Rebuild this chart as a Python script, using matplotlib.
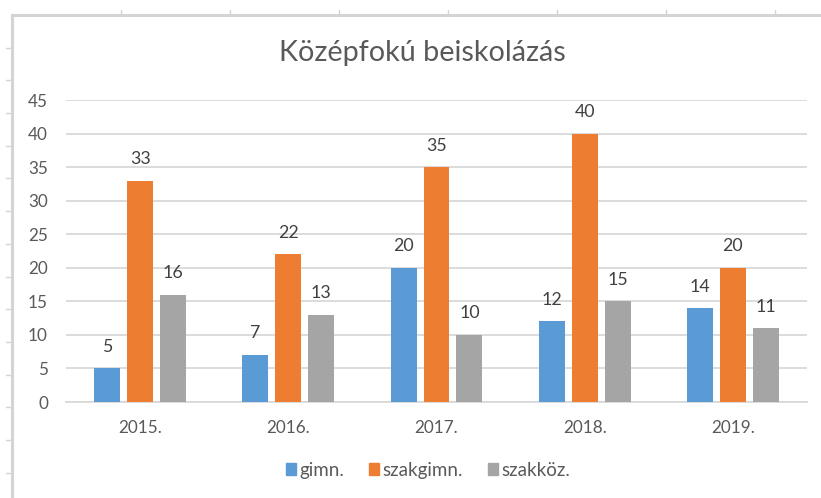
import numpy as np
import matplotlib.pyplot as plt
from matplotlib.lines import Line2D

plt.rcParams['font.family'] = ['Lato', 'DejaVu Sans']

title = 'Középfokú beiskolázás'
years = ['2015.', '2016.', '2017.', '2018.', '2019.']
series_names = ['gimn.', 'szakgimn.', 'szakköz.']
gimn = [5, 7, 20, 12, 14]
szakgimn = [33, 22, 35, 40, 20]
szakkoz = [16, 13, 10, 15, 11]
colors = ['#5B9BD5', '#ED7D31', '#A5A5A5']

W, H = 821, 498
fig = plt.figure(figsize=(W / 100, H / 100), dpi=100)

# plot area in pixel coordinates
x0, x1 = 66, 807
y0, y1 = 402, 100
ax = fig.add_axes([x0 / W, 1 - y0 / H, (x1 - x0) / W, (y0 - y1) / H])

x = np.arange(len(years))
bw = 0.175
step = 0.222
text_col = '#404040'
tick_col = '#595959'

for i, (vals, name) in enumerate(zip([gimn, szakgimn, szakkoz], series_names)):
    pos = x + (i - 1) * step
    ax.bar(pos, vals, width=bw, color=colors[i], label=name, zorder=3)
    for p, v in zip(pos, vals):
        ax.annotate(str(v), (p, v), xytext=(0, 15.5), textcoords='offset points',
                    ha='center', va='center', fontsize=12.8, color=text_col)

ax.set_xlim(-0.5, len(years) - 0.5)
ax.set_ylim(0, 45)
ax.set_yticks(np.arange(0, 50, 5))
ax.set_xticks(x)
ax.set_xticklabels(years)
ax.grid(axis='y', color='#D9D9D9', linewidth=1.3, zorder=0)
ax.tick_params(axis='both', length=0, labelsize=12.3, labelcolor=tick_col)
ax.tick_params(axis='y', pad=13)
ax.tick_params(axis='x', pad=13)
for s in ['top', 'right', 'left']:
    ax.spines[s].set_visible(False)
ax.spines['bottom'].set_color('#D9D9D9')
ax.spines['bottom'].set_linewidth(1.3)

fig.text(422 / W, 1 - 53 / H, title, ha='center', va='center',
         fontsize=20.7, color=tick_col)

handles = [plt.Rectangle((0, 0), 1, 1, color=c) for c in colors]
fig.legend(handles, series_names, loc='center', bbox_to_anchor=(428 / W, 1 - 470 / H),
           ncol=3, frameon=False, fontsize=13.5, handlelength=0.55, handleheight=0.55,
           handletextpad=0.2, columnspacing=1.3, labelcolor=tick_col)

# sheet frame around the chart
fc = '#D4D4D4'
fig.add_artist(Line2D([12 / W, 12 / W], [0, 1 - 15 / H], transform=fig.transFigure,
                      color=fc, linewidth=2.2))
fig.add_artist(Line2D([12 / W, 1], [1 - 15 / H, 1 - 15 / H], transform=fig.transFigure,
                      color=fc, linewidth=2.2))
for k in range(1, 15):
    yy = 15 + 32.7 * k
    fig.add_artist(Line2D([6 / W, 12 / W], [1 - yy / H, 1 - yy / H],
                          transform=fig.transFigure, color=fc, linewidth=1))
for k in range(1, 8):
    xx = 12 + 109 * k
    fig.add_artist(Line2D([xx / W, xx / W], [1 - 10 / H, 1 - 15 / H],
                          transform=fig.transFigure, color=fc, linewidth=1))

fig.savefig('out.png', dpi=100)
